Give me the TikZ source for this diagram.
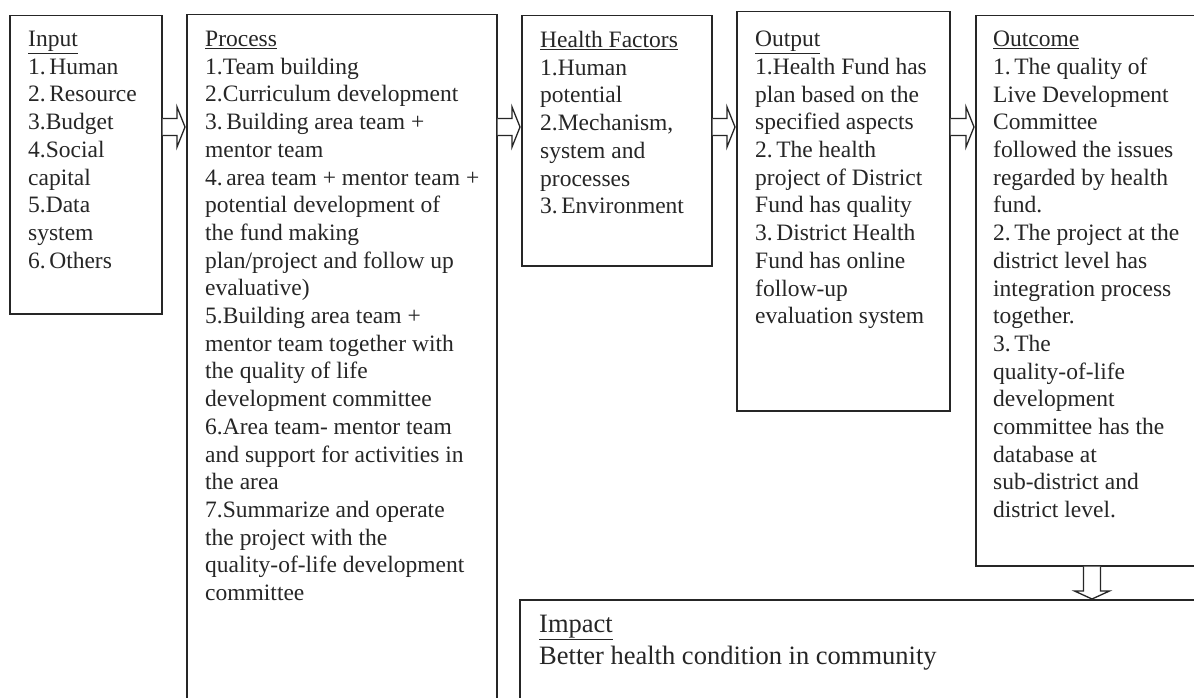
\documentclass[tikz,border=0pt]{standalone}
\usepackage{fontspec}
\setmainfont{Liberation Serif}
\usetikzlibrary{calc}
\newcommand{\nsp}{\hspace{3.5pt}}
\begin{document}
\begin{tikzpicture}[x=1pt,y=1pt,
  box/.style={draw=black!85, line width=1.5pt, fill=white, inner sep=0pt, anchor=north west},
  txt/.style={anchor=north west, inner sep=0pt, align=left, font=\fontsize{23.5}{27.7}\selectfont, text=black!85},
  blockarrow/.style={draw=black!85, line width=1.3pt, fill=white, line join=miter}]
\useasboundingbox (0,0) rectangle (1194,-698);
\clip (0,0) rectangle (1194,-698);
\fill[white] (0,0) rectangle (1194,-698);
% boxes
\node[box, minimum width=152pt, minimum height=298pt] (input) at (9,-15) {};
\node[box, minimum width=310pt, minimum height=700pt] (process) at (186,-14) {};
\node[box, minimum width=190pt, minimum height=250pt] (hf) at (521,-15) {};
\node[box, minimum width=213pt, minimum height=399pt] (output) at (736,-11) {};
\node[box, minimum width=230pt, minimum height=550pt] (outcome) at (975,-15) {};
\node[box, minimum width=690pt, minimum height=120pt] (impact) at (519,-599) {};
% texts
\node[txt] (inputtxt) at (28,-31) {\underline{Input}\\1.\nsp Human\\2.\nsp Resource\\3.Budget\\4.Social\\capital\\5.Data\\system\\6.\nsp Others};
\node[txt] (processtxt) at (205,-31) {\underline{Process}\\1.Team building\\2.Curriculum development\\3.\nsp Building area team +\\mentor team\\4.\nsp area team + mentor team +\\potential development of\\the fund making\\plan/project and follow up\\evaluative)\\5.Building area team +\\mentor team together with\\the quality of life\\development committee\\6.Area team- mentor team\\and support for activities in\\the area\\7.Summarize and operate\\the project with the\\quality-of-life development\\committee};
\node[txt] (hftxt) at (540,-31) {\underline{Health Factors}\\1.Human\\potential\\2.Mechanism,\\system and\\processes\\3.\nsp Environment};
\node[txt] (outputtxt) at (755,-31) {\underline{Output}\\1.Health Fund has\\plan based on the\\specified aspects\\2.\nsp The health\\project of District\\Fund has quality\\3.\nsp District Health\\Fund has online\\follow-up\\evaluation system};
\node[txt] (outcometxt) at (993,-31) {\underline{Outcome}\\1.\nsp The quality of\\Live Development\\Committee\\followed the issues\\regarded by health\\fund.\\2.\nsp The project at the\\district level has\\integration process\\together.\\3.\nsp The\\quality-of-life\\development\\committee has the\\database at\\sub-district and\\district level.};
\node[txt, font=\fontsize{26.5}{32}\selectfont] (impacttxt) at (539,-615) {\underline{Impact}\\Better health condition in community};
% block arrows
\foreach \a/\b in {input/process, process/hf, hf/output, output/outcome}{
  \draw[blockarrow] let \p1=(\a.east), \p2=(\b.west) in
    (\x1,-118.5pt) -- (\x2-9pt,-118.5pt) -- (\x2-9pt,-107pt) -- (\x2-1pt,-127pt)
    -- (\x2-9pt,-147pt) -- (\x2-9pt,-135.5pt) -- (\x1,-135.5pt);
}
\draw[blockarrow] let \p1=(outcome.south), \p2=(impact.north) in
  (1083.5pt,\y1) -- (1083.5pt,\y2+8pt) -- (1074.5pt,\y2+8pt) -- (1092pt,\y2)
  -- (1109.5pt,\y2+8pt) -- (1100.5pt,\y2+8pt) -- (1100.5pt,\y1);
\end{tikzpicture}
\end{document}
